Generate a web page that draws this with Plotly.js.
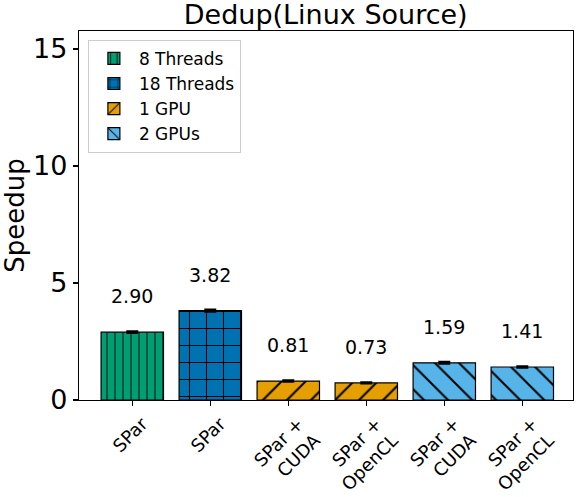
<!DOCTYPE html>
<html>
<head>
<meta charset="utf-8">
<script src="https://cdn.plot.ly/plotly-3.0.1.min.js"></script>
<style>html,body{margin:0;padding:0;background:#fff;}#chart{width:578px;height:497px;}</style>
</head>
<body>
<div id="chart"></div>
<script>
// Data
const tickLabels = ["SPar", "SPar", "SPar +<br>CUDA", "SPar +<br>OpenCL", "SPar +<br>CUDA", "SPar +<br>OpenCL"];
const seriesNames = ["8 Threads", "18 Threads", "1 GPU", "2 GPUs"];
const threads8X = [0];
const threads8Y = [2.90];
const threads8Err = [0.04];
const threads18X = [1];
const threads18Y = [3.82];
const threads18Err = [0.05];
const gpu1X = [2, 3];
const gpu1Y = [0.81, 0.73];
const gpu1Err = [0.03, 0.03];
const gpu2X = [4, 5];
const gpu2Y = [1.59, 1.41];
const gpu2Err = [0.04, 0.03];

const colors = ["#009E73", "#0072B2", "#E69F00", "#56B4E9"];
const shapes = ["|", "+", "/", "\\"];
const sizes = [8, 17, 17, 17];

const xs = [threads8X, threads18X, gpu1X, gpu2X];
const ys = [threads8Y, threads18Y, gpu1Y, gpu2Y];
const errs = [threads8Err, threads18Err, gpu1Err, gpu2Err];

const font = "DejaVu Sans, sans-serif";

const traces = seriesNames.map((name, i) => ({
  type: "bar",
  name: name,
  x: xs[i],
  y: ys[i],
  width: 0.8,
  marker: {
    color: colors[i],
    line: {color: "#000", width: 1.2},
    pattern: {shape: shapes[i], size: sizes[i], solidity: 0.12, fgcolor: "#000", fgopacity: 1, bgcolor: colors[i], fillmode: "overlay"}
  },
  error_y: {type: "data", array: errs[i], visible: true, color: "#000", thickness: 2, width: 6},
  hoverinfo: "skip"
}));

const annotations = [];
xs.forEach((xa, i) => xa.forEach((xv, j) => {
  annotations.push({
    x: xv, y: ys[i][j], xref: "x", yref: "y",
    text: ys[i][j].toFixed(2), showarrow: false,
    yanchor: "bottom", yshift: 23,
    font: {family: font, size: 19, color: "#000"}
  });
}));

const layout = {
  width: 578, height: 497,
  margin: {l: 79, r: 5, t: 31, b: 97},
  paper_bgcolor: "#fff", plot_bgcolor: "#fff",
  barmode: "overlay",
  showlegend: true,
  title: {text: "Dedup(Linux Source)", font: {family: font, size: 27, color: "#000"}, x: 0.5635, xanchor: "center", y: 0.971, yanchor: "middle"},
  xaxis: {
    range: [-0.683, 5.65],
    tickmode: "array", tickvals: [0, 1, 2, 3, 4, 5], ticktext: tickLabels,
    tickangle: -45,
    ticklabelshift: 10,
    tickfont: {family: font, size: 18, color: "#000"},
    ticks: "outside", ticklen: 5, tickwidth: 1.2, tickcolor: "#000",
    showline: true, linecolor: "#000", linewidth: 1.2, mirror: true,
    showgrid: false, zeroline: false
  },
  yaxis: {
    range: [0, 15.77],
    tickvals: [0, 5, 10, 15],
    tickfont: {family: font, size: 27, color: "#000"},
    ticks: "outside", ticklen: 5, tickwidth: 1.2, tickcolor: "#000",
    showline: true, linecolor: "#000", linewidth: 1.2, mirror: true,
    showgrid: false, zeroline: false,
    title: {text: "Speedup", font: {family: font, size: 26, color: "#000"}, standoff: 6}
  },
  legend: {
    x: 0.018, y: 0.976, xanchor: "left", yanchor: "top",
    bgcolor: "rgba(255,255,255,0.8)", bordercolor: "#cccccc", borderwidth: 1,
    font: {family: font, size: 17, color: "#000"},
    itemwidth: 40,
    tracegroupgap: 0
  },
  annotations: annotations
};

Plotly.newPlot("chart", traces, layout, {displayModeBar: false, staticPlot: true});
</script>
</body>
</html>
